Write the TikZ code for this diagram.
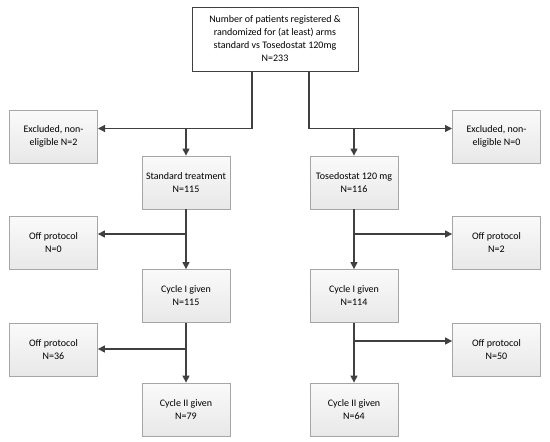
\documentclass[tikz,border=0pt]{standalone}
\usepackage{fontspec}
\setmainfont{Carlito}
\usetikzlibrary{arrows.meta}
\definecolor{lineC}{HTML}{404040}
\definecolor{boxB}{HTML}{A6A6A6}
\tikzset{
  flowbox/.style={draw=boxB, line width=0.8pt, top color=gray!4, bottom color=gray!18,
    minimum width=88pt, minimum height=53pt, align=center, inner sep=2pt,
    font=\fontsize{10}{13}\selectfont},
  topbox/.style={draw=lineC, line width=1pt, fill=white, minimum width=166pt, minimum height=64pt,
    align=center, font=\fontsize{10}{13}\selectfont},
  conn/.style={draw=lineC, line width=1.2pt},
  arr/.style={conn, -{Triangle[length=7pt,width=7pt]}}
}
\begin{document}
\begin{tikzpicture}[x=1pt,y=-1pt]
\useasboundingbox (0,0) rectangle (550,442);
\node[topbox] (top) at (275,39) {Number of patients registered \&\\randomized for (at least) arms\\standard vs Tosedostat 120mg\\N=233};
\node[flowbox] (exL) at (53.5,136.5) {Excluded, non-\\eligible N=2};
\node[flowbox] (std) at (186,182.5) {Standard treatment\\N=115};
\node[flowbox] (exR) at (496.5,136.5) {Excluded, non-\\eligible N=0};
\node[flowbox] (tos) at (354,182.5) {Tosedostat 120 mg\\N=116};
\node[flowbox] (offL1) at (53.5,243) {Off protocol\\N=0};
\node[flowbox] (cycL1) at (186,296) {Cycle I given\\N=115};
\node[flowbox] (offR1) at (496.5,243) {Off protocol\\N=2};
\node[flowbox] (cycR1) at (354,296) {Cycle I given\\N=114};
\node[flowbox] (offL2) at (53.5,349.5) {Off protocol\\N=36};
\node[flowbox] (cycL2) at (186,409.5) {Cycle II given\\N=79};
\node[flowbox] (offR2) at (496.5,349.5) {Off protocol\\N=50};
\node[flowbox] (cycR2) at (354,409.5) {Cycle II given\\N=64};
% top branches
\coordinate (tL) at (252,71);
\coordinate (tR) at (309,71);
\coordinate (jL) at (252,128.5);
\coordinate (jR) at (309,128.5);
\coordinate (sL) at (186,128.5);
\coordinate (sR) at (354,128.5);
\coordinate (eL) at (98,128.5);
\coordinate (eR) at (452,128.5);
\draw[conn] (tL) -- (jL);
\draw[arr] (jL) -- (eL);
\draw[arr] (sL) -- (std.north);
\draw[conn] (tR) -- (jR);
\draw[arr] (jR) -- (eR);
\draw[arr] (sR) -- (tos.north);
% second level
\coordinate (bL1) at (186,234);
\coordinate (bR1) at (354,234);
\draw[arr] (std.south) -- (cycL1.north);
\draw[arr] (bL1) -- (bL1 -| offL1.east);
\draw[arr] (tos.south) -- (cycR1.north);
\draw[arr] (bR1) -- (bR1 -| offR1.west);
% third level
\coordinate (bL2) at (186,349);
\coordinate (bR2) at (354,341);
\draw[arr] (cycL1.south) -- (cycL2.north);
\draw[arr] (bL2) -- (bL2 -| offL2.east);
\draw[arr] (cycR1.south) -- (cycR2.north);
\draw[arr] (bR2) -- (bR2 -| offR2.west);
\end{tikzpicture}
\end{document}
